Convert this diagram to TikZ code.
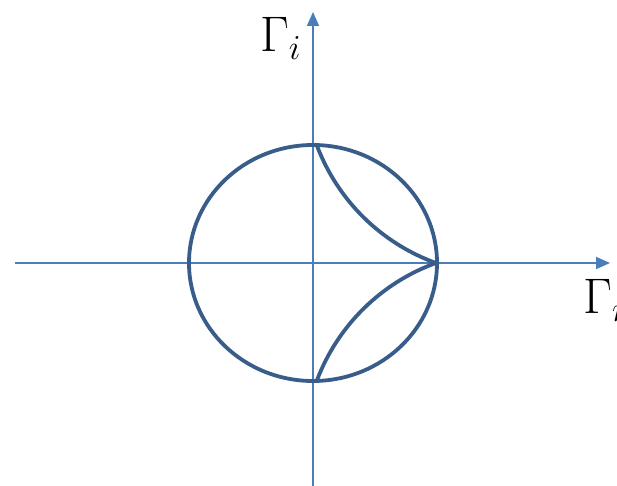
\RequirePackage{fix-cm}
\documentclass[tikz,border=0pt]{standalone}
\usetikzlibrary{arrows.meta}
\definecolor{axisblue}{RGB}{74,126,187}
\definecolor{curveblue}{RGB}{56,93,138}
\begin{document}
\begin{tikzpicture}[x=1pt,y=1pt,
  axis/.style={draw=axisblue,line width=1.8pt,-{Triangle[length=14pt,width=12pt]}},
  curve/.style={draw=curveblue,line width=3.8pt},
  lbl/.style={inner sep=0pt,font=\fontsize{50}{60}\selectfont}]
\useasboundingbox (-313,-223) rectangle (304,263);
\coordinate (xs) at (-298,0);
\coordinate (xe) at (297,0);
\coordinate (ys) at (0,-224);
\coordinate (ye) at (0,251);
\draw[axis] (xs) -- (xe);
\draw[axis] (ys) -- (ye);
\draw[curve] (0,0) ellipse[x radius=124, y radius=118];
\coordinate (top) at (3.7,118);
\coordinate (bot) at (3.7,-118);
\draw[curve] (top) arc[start angle=200.5, end angle=250.4, radius=200];
\draw[curve] (bot) arc[start angle=159.5, end angle=109.6, radius=200];
\node[lbl,anchor=base west] (gi) at (-53,211) {$\Gamma_i$};
\node[lbl,anchor=base west] (gr) at (270,-51) {$\Gamma_r$};
\end{tikzpicture}
\end{document}
